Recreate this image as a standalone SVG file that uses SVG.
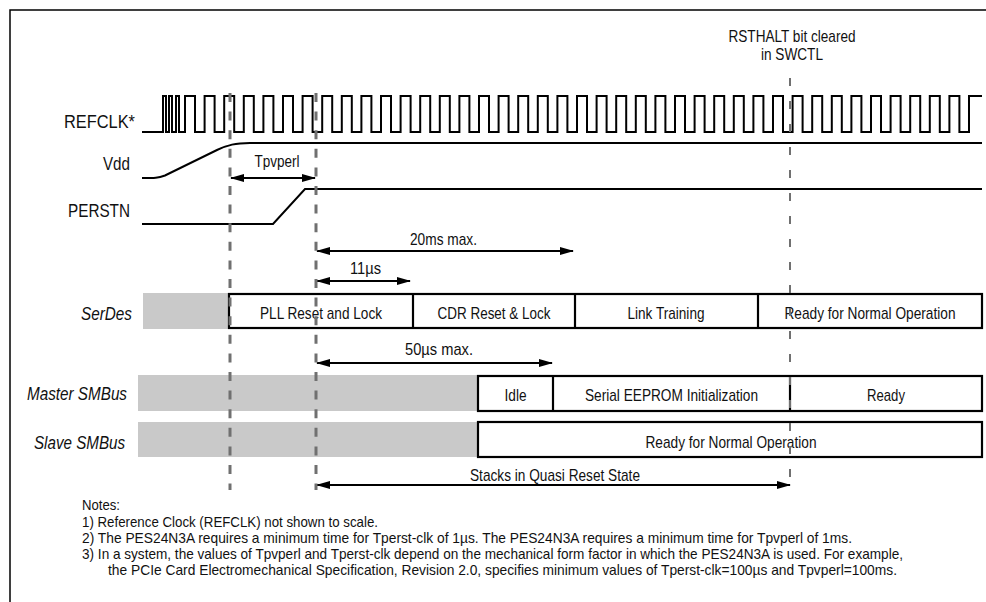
<svg xmlns="http://www.w3.org/2000/svg" width="986" height="602" viewBox="0 0 986 602">
<style>
.txt{font-family:"Liberation Sans",Arial,sans-serif;fill:#111}
.big{font-size:18.6px}
.sm{font-size:16.4px}
.nt{font-size:15px}
.it{font-style:italic}
.mid{text-anchor:middle}
.end{text-anchor:end}
.box{fill:#fff;stroke:#000;stroke-width:2.2}
.div{stroke:#000;stroke-width:2.2}
.gray{fill:#c9c9c9}
.sig{fill:none;stroke:#000;stroke-width:2}
.dash{fill:none;stroke:#707070;stroke-width:3;stroke-dasharray:9 9.6}
.dash2{fill:none;stroke:#707070;stroke-width:2;stroke-dasharray:8 15}
.arr{stroke:#000;stroke-width:2;marker-start:url(#ah);marker-end:url(#ah)}
</style>
<defs>
<marker id="ah" markerUnits="userSpaceOnUse" markerWidth="14" markerHeight="8" refX="13" refY="4" orient="auto-start-reverse">
<path d="M0,0 L14,4 L0,8 z" fill="#000"/>
</marker>
</defs>
<rect width="986" height="602" fill="#fff"/>
<path d="M10,602 V10 H986" fill="none" stroke="#000" stroke-width="1.5"/>

<g id="refclk">
<text class="txt big end" x="135" y="128" textLength="71" lengthAdjust="spacingAndGlyphs">REFCLK*</text>
<path class="sig" d="M142,132 H163 V96 H166 V132 H169 V96 H172 V132 H176 V96 H179 V132 H185 v-36h10v36h9.6 v-36h10v36h9.6 v-36h10v36h9.6 v-36h10v36h9.6 v-36h10v36h9.6 v-36h10v36h9.6 v-36h10v36h9.6 v-36h10v36h9.6 v-36h10v36h9.6 v-36h10v36h9.6 v-36h10v36h9.6 v-36h10v36h9.6 v-36h10v36h9.6 v-36h10v36h9.6 v-36h10v36h9.6 v-36h10v36h9.6 v-36h10v36h9.6 v-36h10v36h9.6 v-36h10v36h9.6 v-36h10v36h9.6 v-36h10v36h9.6 v-36h10v36h9.6 v-36h10v36h9.6 v-36h10v36h9.6 v-36h10v36h9.6 v-36h10v36h9.6 v-36h10v36h9.6 v-36h10v36h9.6 v-36h10v36h9.6 v-36h10v36h9.6 v-36h10v36h9.6 v-36h10v36h9.6 v-36h10v36h9.6 v-36h10v36h9.6 v-36h10v36h9.6 v-36h10v36h9.6 v-36h10v36h9.6 v-36h10v36h9.6 v-36h10v36h9.6 v-36h10v36h9.6 v-36h13"/>
</g>

<g id="vdd">
<text class="txt big end" x="130" y="170" textLength="27" lengthAdjust="spacingAndGlyphs">Vdd</text>
<path class="sig" stroke-width="1.6" d="M142,178 C155,178 158,178 165,175.5 L217,150 C228,145 235,143 250,143 H982"/>
</g>

<g id="perstn">
<text class="txt big end" x="130" y="217" textLength="62" lengthAdjust="spacingAndGlyphs">PERSTN</text>
<path class="sig" stroke-width="1.8" d="M142,224 H273 L305,189 H982"/>
</g>

<g id="rsthalt">
<text class="txt sm mid" x="792" y="42" textLength="127" lengthAdjust="spacingAndGlyphs">RSTHALT bit cleared</text>
<text class="txt sm mid" x="792" y="60" textLength="62" lengthAdjust="spacingAndGlyphs">in SWCTL</text>
</g>

<g id="serdes">
<text class="txt big it end" x="132" y="320" textLength="51" lengthAdjust="spacingAndGlyphs">SerDes</text>
<rect class="gray" x="143" y="293" width="86" height="36"/>
<rect class="box" x="229" y="294" width="753" height="34"/>
<line class="div" x1="413" y1="294" x2="413" y2="328"/>
<line class="div" x1="575" y1="294" x2="575" y2="328"/>
<line class="div" x1="758" y1="294" x2="758" y2="328"/>
<text class="txt sm mid" x="321" y="319" textLength="122" lengthAdjust="spacingAndGlyphs">PLL Reset and Lock</text>
<text class="txt sm mid" x="494" y="319" textLength="113" lengthAdjust="spacingAndGlyphs">CDR Reset &amp; Lock</text>
<text class="txt sm mid" x="666" y="319" textLength="77" lengthAdjust="spacingAndGlyphs">Link Training</text>
<text class="txt sm mid" x="870" y="319" textLength="171" lengthAdjust="spacingAndGlyphs">Ready for Normal Operation</text>
</g>

<g id="master-smbus">
<text class="txt big it end" x="127" y="400" textLength="100" lengthAdjust="spacingAndGlyphs">Master SMBus</text>
<rect class="gray" x="138" y="375" width="340" height="36"/>
<rect class="box" x="478" y="376" width="504" height="35"/>
<line class="div" x1="553" y1="376" x2="553" y2="411"/>
<line class="div" x1="790" y1="376" x2="790" y2="411"/>
<text class="txt sm mid" x="515.5" y="401" textLength="22" lengthAdjust="spacingAndGlyphs">Idle</text>
<text class="txt sm mid" x="671.5" y="401" textLength="173" lengthAdjust="spacingAndGlyphs">Serial EEPROM Initialization</text>
<text class="txt sm mid" x="886" y="401" textLength="38" lengthAdjust="spacingAndGlyphs">Ready</text>
</g>

<g id="slave-smbus">
<text class="txt big it end" x="125" y="449" textLength="91" lengthAdjust="spacingAndGlyphs">Slave SMBus</text>
<rect class="gray" x="138" y="422" width="340" height="35"/>
<rect class="box" x="478" y="422" width="504" height="35"/>
<text class="txt sm mid" x="731" y="448" textLength="171" lengthAdjust="spacingAndGlyphs">Ready for Normal Operation</text>
</g>

<g id="connectors">
<line class="arr" x1="231" y1="178" x2="315" y2="178"/>
<line class="arr" x1="317" y1="251" x2="573" y2="251"/>
<line class="arr" x1="317" y1="281" x2="410" y2="281"/>
<line class="arr" x1="317" y1="363" x2="552" y2="363"/>
<line class="arr" x1="317" y1="485" x2="790" y2="485"/>
</g>

<g id="arrow-labels">
<text class="txt sm mid" x="277" y="167" textLength="45" lengthAdjust="spacingAndGlyphs">Tpvperl</text>
<text class="txt sm mid" x="443.5" y="245" textLength="67" lengthAdjust="spacingAndGlyphs">20ms max.</text>
<text class="txt sm mid" x="365.5" y="274" textLength="31" lengthAdjust="spacingAndGlyphs">11µs</text>
<text class="txt sm mid" x="439" y="355" textLength="68" lengthAdjust="spacingAndGlyphs">50µs max.</text>
<text class="txt sm mid" x="555" y="481" textLength="170" lengthAdjust="spacingAndGlyphs">Stacks in Quasi Reset State</text>
</g>

<g id="markers">
<line class="dash" x1="230" y1="93" x2="230" y2="490"/>
<line class="dash" x1="316" y1="93" x2="316" y2="490"/>
<line class="dash2" x1="790" y1="78" x2="790" y2="490"/>
</g>

<g id="notes">
<text class="txt nt" x="82" y="510" textLength="38" lengthAdjust="spacingAndGlyphs">Notes:</text>
<text class="txt nt" x="82" y="527" textLength="296" lengthAdjust="spacingAndGlyphs">1) Reference Clock (REFCLK) not shown to scale.</text>
<text class="txt nt" x="82" y="543" textLength="770" lengthAdjust="spacingAndGlyphs">2) The PES24N3A requires a minimum time for Tperst-clk of 1µs. The PES24N3A requires a minimum time for Tpvperl of 1ms.</text>
<text class="txt nt" x="82" y="559" textLength="821" lengthAdjust="spacingAndGlyphs">3) In a system, the values of Tpvperl and Tperst-clk depend on the mechanical form factor in which the PES24N3A is used. For example,</text>
<text class="txt nt" x="108" y="575" textLength="789" lengthAdjust="spacingAndGlyphs">the PCIe Card Electromechanical Specification, Revision 2.0, specifies minimum values of Tperst-clk=100µs and Tpvperl=100ms.</text>
</g>
</svg>
